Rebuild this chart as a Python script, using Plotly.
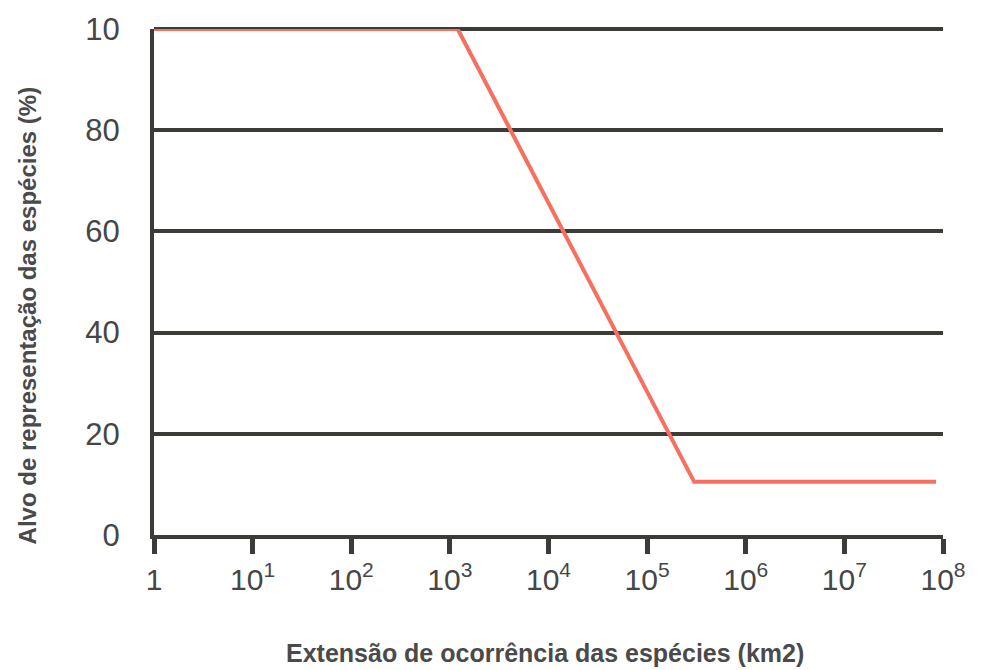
import plotly.graph_objects as go

# Species range extent (km2) and the representation target (%)
range_km2 = [1, 1200, 300000, 85000000]
target_pct = [100, 100, 10.5, 10.5]

x_tickvals = [1, 1e1, 1e2, 1e3, 1e4, 1e5, 1e6, 1e7, 1e8]
x_ticktext = ["1", "10<sup>1</sup>", "10<sup>2</sup>", "10<sup>3</sup>", "10<sup>4</sup>",
              "10<sup>5</sup>", "10<sup>6</sup>", "10<sup>7</sup>", "10<sup>8</sup>"]
y_tickvals = [0, 20, 40, 60, 80, 100]
y_ticktext = ["0", "20", "40", "60", "80", "10"]

axis_color = "#3b3b37"
text_color = "#464646"
title_color = "#4a4a4a"
line_color = "#f7705f"

fig = go.Figure()
fig.add_trace(go.Scatter(
    x=range_km2, y=target_pct, mode="lines",
    line=dict(color=line_color, width=4),
    cliponaxis=False, showlegend=False, hoverinfo="skip",
))

# top gridline sits on the upper range edge, so draw it explicitly (unclipped)
fig.add_shape(type="line", xref="paper", x0=0, x1=1, yref="paper", y0=1, y1=1,
              line=dict(color=axis_color, width=4), layer="below")

fig.update_layout(
    width=981, height=670,
    margin=dict(l=154, r=38, t=23, b=135),
    paper_bgcolor="white", plot_bgcolor="white",
    font=dict(family="Liberation Sans, Arial, sans-serif", color=text_color),
    xaxis=dict(
        type="log", range=[0, 8],
        tickvals=x_tickvals, ticktext=x_ticktext,
        tickfont=dict(size=30, color=text_color),
        ticks="outside", ticklen=15, tickwidth=5, tickcolor=axis_color,
        showline=True, linecolor=axis_color, linewidth=4,
        showgrid=False, zeroline=False,
    ),
    yaxis=dict(
        range=[0, 100],
        tickvals=y_tickvals, ticktext=y_ticktext,
        tickfont=dict(size=31, color=text_color),
        ticks="", ticklabelstandoff=24,
        showline=True, linecolor=axis_color, linewidth=4,
        showgrid=True, gridcolor=axis_color, gridwidth=4,
        zeroline=False,
    ),
    annotations=[
        dict(text="<b>Extensão de ocorrência das espécies (km2)</b>",
             xref="paper", yref="paper", x=0.496, y=0, yshift=-118,
             xanchor="center", yanchor="middle", showarrow=False,
             font=dict(size=25, color=title_color)),
        dict(text="<b>Alvo de representação das espécies (%)</b>",
             xref="paper", yref="paper", x=0, y=0.434, xshift=-127,
             xanchor="center", yanchor="middle", textangle=-90, showarrow=False,
             font=dict(size=24, color=title_color)),
    ],
)

fig.write_html("out.html")
